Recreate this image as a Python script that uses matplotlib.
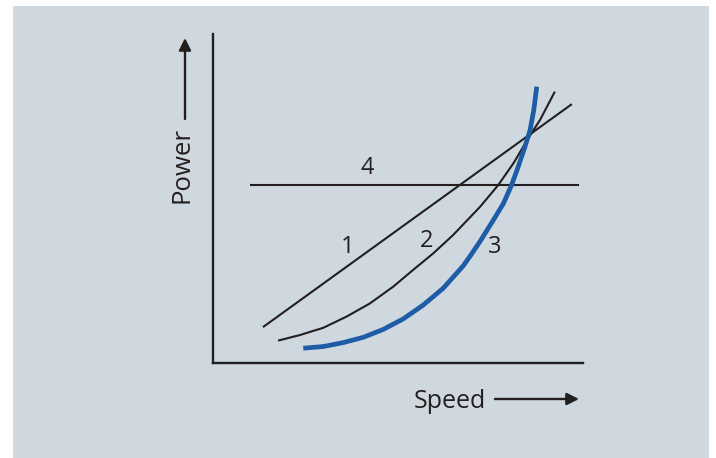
import numpy as np
import matplotlib.pyplot as plt
from matplotlib.patches import Rectangle

# curve data (speed, power) in arbitrary units
line1_x = [1.35, 9.70]
line1_y = [1.09, 7.87]

line2_x = [1.76, 2.35, 2.98, 3.61, 4.24, 4.87, 5.41, 5.95, 6.49, 7.22, 7.71, 8.12, 8.52, 8.84, 9.24]
line2_y = [0.68, 0.85, 1.07, 1.41, 1.81, 2.32, 2.83, 3.33, 3.89, 4.75, 5.41, 6.07, 6.83, 7.39, 8.25]

line3_x = [2.44, 2.98, 3.52, 4.06, 4.60, 5.14, 5.68, 6.22, 6.76, 6.95, 7.22, 7.58, 7.85, 8.07,
           8.25, 8.43, 8.57, 8.67, 8.75]
line3_y = [0.45, 0.50, 0.62, 0.78, 1.02, 1.34, 1.76, 2.27, 2.95, 3.25, 3.70, 4.35, 4.85, 5.41,
           5.97, 6.57, 7.08, 7.69, 8.40]

line4_x = [1.0, 9.89]
line4_y = [5.41, 5.41]

labels = ['1', '2', '3', '4']
label_x = [3.65, 5.76, 7.62, 4.16]
label_y = [3.52, 3.71, 3.52, 5.93]

W, H = 716, 458
dark = '#231f20'
blue = '#1f5ca8'
bg = '#cfd8de'

plt.rcParams['font.family'] = ['Open Sans', 'DejaVu Sans']
fig = plt.figure(figsize=(W / 100, H / 100), dpi=100)
fig.patch.set_facecolor('white')

# grey panel behind everything
fig.patches.append(Rectangle((13 / W, 0), 696 / W, 452 / H, transform=fig.transFigure,
                             facecolor=bg, edgecolor='none', zorder=-5))

ax = fig.add_axes([213 / W, (H - 363) / H, 370 / W, 329 / H])
ax.set_zorder(2)
ax.set_facecolor('none')
ax.set_xlim(0, 10)
ax.set_ylim(0, 10)
for s in ['top', 'right']:
    ax.spines[s].set_visible(False)
for s in ['left', 'bottom']:
    ax.spines[s].set_color(dark)
    ax.spines[s].set_linewidth(1.7)
ax.set_xticks([])
ax.set_yticks([])

ax.plot(line1_x, line1_y, color=dark, lw=1.5, solid_capstyle='butt')
ax.plot(line2_x, line2_y, color=dark, lw=1.5, solid_capstyle='butt', solid_joinstyle='round')
ax.plot(line4_x, line4_y, color=dark, lw=1.5, solid_capstyle='butt')
ax.plot(line3_x, line3_y, color=blue, lw=3.4, solid_capstyle='butt', solid_joinstyle='round')

for t, x, y in zip(labels, label_x, label_y):
    ax.text(x, y, t, fontsize=17, color=dark, ha='center', va='center')

# axis titles with arrows
fig.text(182 / W, 1 - 165 / H, 'Power', rotation=90, fontsize=18.5, color=dark,
         ha='center', va='center', zorder=3)
fig.text(450 / W, 1 - 402 / H, 'Speed', fontsize=18, color=dark,
         ha='center', va='center', zorder=3)
arrow = dict(arrowstyle='-|>', color=dark, lw=1.7, mutation_scale=18, shrinkA=0, shrinkB=0)
ax.annotate('', xy=(185 / W, 1 - 38 / H), xytext=(185 / W, 1 - 119 / H),
            xycoords='figure fraction', textcoords='figure fraction', arrowprops=arrow,
            annotation_clip=False)
ax.annotate('', xy=(579 / W, 1 - 399 / H), xytext=(495 / W, 1 - 399 / H),
            xycoords='figure fraction', textcoords='figure fraction', arrowprops=arrow,
            annotation_clip=False)

fig.savefig('out.png', dpi=100, facecolor='white')
